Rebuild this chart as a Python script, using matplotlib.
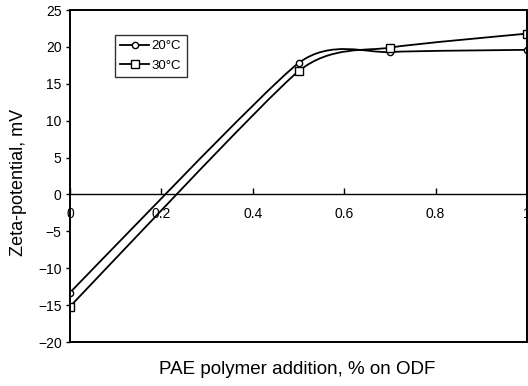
import matplotlib
matplotlib.use("Agg")
import matplotlib.pyplot as plt
import numpy as np
from matplotlib.patches import PathPatch, Rectangle
from matplotlib.path import Path

plt.rcParams["font.family"] = ["Liberation Sans", "DejaVu Sans"]

addition = [0.0, 0.5, 0.7, 1.0]
zeta_20 = [-13.3, 17.8, 19.3, 19.6]
zeta_30 = [-15.2, 16.7, 19.9, 21.8]
series_labels = ["20°C", "30°C"]
y_ticks = [-20, -15, -10, -5, 0, 5, 10, 15, 20, 25]
x_ticks = [0, 0.2, 0.4, 0.6, 0.8, 1.0]
x_tick_labels = ["0", "0.2", "0.4", "0.6", "0.8", "1"]


def smooth_path(x, y, k=0.1):
    # smoothed line: cubic Bezier segments through the points
    pts = np.column_stack([x, y])
    n = len(pts)
    verts = [pts[0]]
    codes = [Path.MOVETO]
    for i in range(n - 1):
        p0 = pts[max(i - 1, 0)]
        p1 = pts[i]
        p2 = pts[i + 1]
        p3 = pts[min(i + 2, n - 1)]
        verts += [p1 + (p2 - p0) * k, p2 - (p3 - p1) * k, p2]
        codes += [Path.CURVE4] * 3
    return Path(verts, codes)


def main():
    fig = plt.figure(figsize=(5.28, 3.86), dpi=100)
    ax = fig.add_axes([70 / 528, 44 / 386, 457 / 528, 332 / 386])

    styles = [("o", 4.5), ("s", 6)]
    for y, label, (marker, size) in zip([zeta_20, zeta_30], series_labels, styles):
        ax.add_patch(PathPatch(smooth_path(addition, y), fill=False,
                               edgecolor="black", lw=1.3, zorder=2))
        ax.plot(addition, y, linestyle="none", marker=marker, ms=size,
                mfc="white", mec="black", mew=1.0, zorder=3)
        ax.plot([], [], color="black", lw=1.3, marker=marker, ms=size,
                mfc="white", mec="black", mew=1.0, label=label)

    ax.set_xlim(0, 1)
    ax.set_ylim(-20, 25)
    ax.set_yticks(y_ticks)
    ax.set_xticks(x_ticks)
    ax.set_xticklabels(x_tick_labels)

    for side in ["top", "right", "left"]:
        ax.spines[side].set_visible(False)
    ax.spines["bottom"].set_position(("data", 0))
    ax.spines["bottom"].set_linewidth(1.0)
    ax.add_patch(Rectangle((0, 0), 1, 1, transform=ax.transAxes, fill=False,
                           edgecolor="black", lw=1.4, clip_on=False, zorder=4))

    ax.tick_params(axis="x", direction="in", length=4, width=1, pad=9,
                   labelsize=10)
    ax.tick_params(axis="y", direction="out", length=3, width=1, pad=3,
                   labelsize=10)

    fig.text(19 / 528, 1 - 182 / 386, "Zeta-potential, mV", rotation=90,
             ha="center", va="center", fontsize=13)
    fig.text(297 / 528, 1 - 370 / 386, "PAE polymer addition, % on ODF",
             ha="center", va="center", fontsize=13.5)

    ax.legend(loc="upper left", bbox_to_anchor=(0.098, 0.925), frameon=True,
              fancybox=False, edgecolor="black", fontsize=9.5,
              handlelength=2.2, handletextpad=0.2, borderpad=0.4,
              labelspacing=0.55, borderaxespad=0)

    fig.savefig("out.png", dpi=100)
    plt.close(fig)


if __name__ == "__main__":
    main()
